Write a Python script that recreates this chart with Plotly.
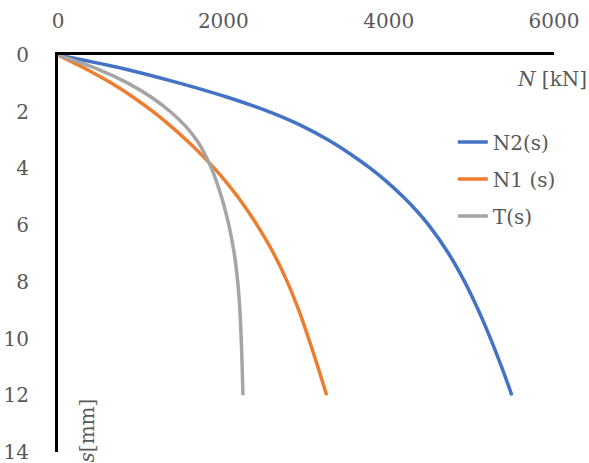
import plotly.graph_objects as go

# Settlement s [mm] and the corresponding forces N [kN]
s_mm = [0, 0.5, 1, 1.5, 2, 2.5, 3, 3.5, 4, 4.5, 5, 5.5, 6, 7, 8, 9, 10, 11, 12]
n2 = [0, 820, 1480, 2060, 2550, 2950, 3270, 3540, 3780, 3990, 4175, 4340, 4485,
      4725, 4920, 5085, 5232, 5366, 5490]
n1 = [0, 345, 650, 915, 1150, 1360, 1552, 1730, 1892, 2040, 2174, 2296, 2409,
      2609, 2774, 2912, 3032, 3144, 3250]
t = [0, 480, 850, 1135, 1360, 1540, 1677, 1777, 1857, 1922, 1977, 2025, 2067,
     2132, 2174, 2200, 2216, 2228, 2237]

series = [
    ("N2(s)", n2, "#4472C4"),
    ("N1 (s)", n1, "#ED7D31"),
    ("T(s)", t, "#A5A5A5"),
]

FONT = "DejaVu Serif"
GREY_TXT = "#595959"
FS = 20

fig = go.Figure()
for name, vals, col in series:
    fig.add_trace(go.Scatter(
        x=vals, y=s_mm, name=name, legendgroup=name, mode="lines",
        line=dict(color=col, width=3.5, shape="spline", smoothing=0.8),
    ))

fig.update_layout(
    width=589, height=463,
    margin=dict(l=58, r=35, t=55, b=11, autoexpand=False),
    paper_bgcolor="white", plot_bgcolor="white",
    font=dict(family=FONT, size=FS, color=GREY_TXT),
    showlegend=True,
    legend=dict(
        x=0.796, y=0.83, xanchor="left", yanchor="top",
        bgcolor="rgba(0,0,0,0)", font=dict(family=FONT, size=FS, color=GREY_TXT),
        tracegroupgap=8,
    ),
    xaxis=dict(
        range=[0, 6000], side="top", tickvals=[0, 2000, 4000, 6000],
        showgrid=False, zeroline=False, automargin=False,
        showline=True, linecolor="black", linewidth=3,
        ticks="", ticklabelstandoff=16, ticklabeloverflow="allow",
        tickfont=dict(family=FONT, size=FS, color=GREY_TXT),
    ),
    yaxis=dict(
        range=[14, 0], tickvals=list(range(0, 15, 2)),
        showgrid=False, zeroline=False, automargin=False,
        showline=True, linecolor="black", linewidth=3,
        ticks="", ticklabelstandoff=22, ticklabeloverflow="allow",
        tickfont=dict(family=FONT, size=FS, color=GREY_TXT),
    ),
    annotations=[
        dict(text="<i>N</i> [kN]", xref="paper", yref="paper",
             x=1.0, y=0.94, xanchor="right", yanchor="middle", xshift=35,
             showarrow=False, font=dict(family=FONT, size=FS, color=GREY_TXT)),
        dict(text="<i>s</i>[mm]", xref="paper", yref="paper",
             x=0.0, y=0.14, xanchor="center", yanchor="top", xshift=29,
             textangle=-90, showarrow=False,
             font=dict(family=FONT, size=FS, color=GREY_TXT)),
    ],
)

fig.write_html("out.html")
